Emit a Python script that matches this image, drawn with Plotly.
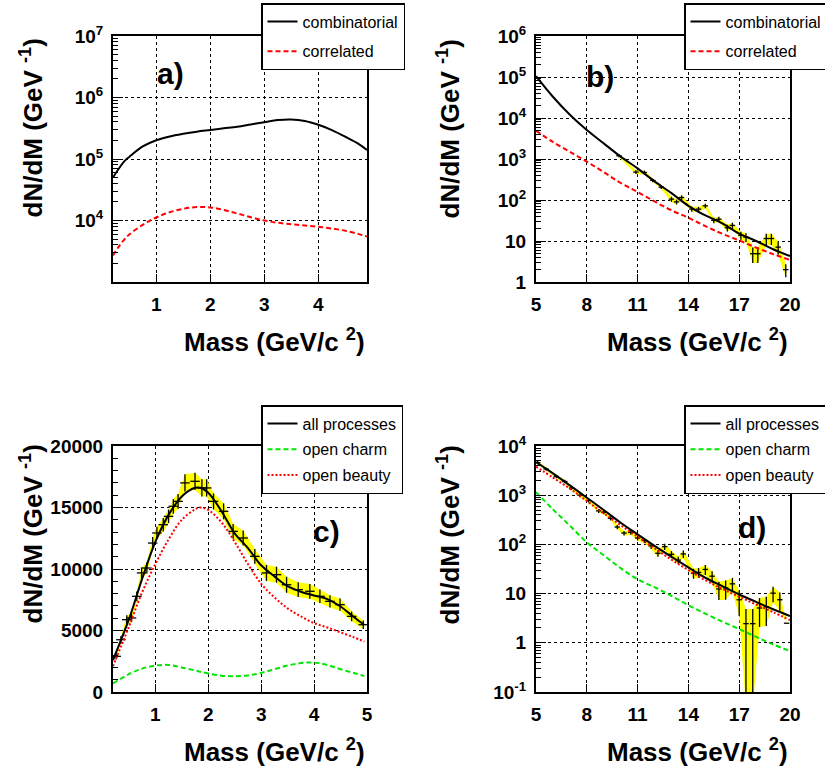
import plotly.graph_objects as go

# ---------------- data ----------------
# panel a) low mass, combinatorial vs correlated
a_mass = [0.2, 0.3, 0.4, 0.5, 0.75, 1.0, 1.25, 1.5, 1.75, 2.0, 2.25, 2.5, 2.75, 3.0, 3.25, 3.5, 3.75, 4.0, 4.25, 4.5, 4.75, 4.9]
a_comb = [5.0e4, 6.8e4, 9.0e4, 1.08e5, 1.6e5, 2.02e5, 2.33e5, 2.57e5, 2.78e5, 2.96e5, 3.15e5, 3.35e5, 3.65e5, 3.97e5, 4.3e5, 4.4e5, 4.15e5, 3.6e5, 2.95e5, 2.3e5, 1.75e5, 1.4e5]
a_corr = [2.7e3, 3.7e3, 4.8e3, 5.9e3, 8.5e3, 1.12e4, 1.36e4, 1.55e4, 1.65e4, 1.63e4, 1.48e4, 1.3e4, 1.13e4, 1.0e4, 9.2e3, 8.7e3, 8.3e3, 7.9e3, 7.4e3, 6.8e3, 6.0e3, 5.5e3]

# panel b) high mass
b_mass = [5, 6, 7, 8, 9, 10, 11, 12, 13, 14, 15, 16, 17, 18, 19, 20]
b_comb = [1.05e5, 3.3e4, 1.2e4, 5.1e3, 2.4e3, 1.14e3, 590, 285, 147, 72, 42, 27, 15.2, 10.0, 6.3, 4.3]
b_corr = [4.9e3, 2.6e3, 1.5e3, 860, 480, 260, 157, 92, 56, 37, 23, 15, 10.3, 6.9, 4.8, 3.45]
b_pts_x = [9.9, 10.9, 11.4, 11.9, 12.4, 13.0, 13.3, 13.6, 14.2, 14.6, 15.0, 15.5, 15.8, 16.3, 16.6, 17.1, 17.4, 17.8, 18.1, 18.6, 18.9, 19.3, 19.75]
b_pts_y = [1200, 480, 470, 300, 205, 105, 90, 115, 60, 60, 72, 32, 34, 21, 24, 13.7, 12.5, 4.9, 4.9, 11.5, 11.5, 7.1, 2.0]
b_pts_e = [100, 50, 50, 30, 20, 15, 12, 15, 8, 8, 9, 5, 5, 4, 4, 3, 3, 2, 2, 3.5, 3.5, 2.5, 0.7]

# panel c) low mass, processes
c_mass = [0.2, 0.5, 0.75, 1.0, 1.25, 1.5, 1.75, 1.85, 2.0, 2.25, 2.5, 2.75, 3.0, 3.25, 3.5, 3.75, 4.0, 4.25, 4.5, 4.75, 4.95]
c_all = [2600, 5900, 9200, 12200, 14400, 15900, 16600, 16600, 16200, 14700, 12900, 11700, 10300, 9400, 8600, 8150, 7850, 7550, 6950, 6100, 5450]
c_beauty = [2100, 5300, 8100, 10400, 12400, 14000, 14850, 15000, 14800, 13800, 12200, 10400, 8800, 7700, 6800, 6150, 5600, 5250, 4850, 4450, 4100]
c_charm = [700, 1450, 1900, 2150, 2200, 2000, 1750, 1650, 1500, 1330, 1280, 1350, 1550, 1850, 2150, 2350, 2390, 2200, 1850, 1550, 1300]
c_pts_x = [0.26, 0.35, 0.46, 0.55, 0.65, 0.74, 0.84, 0.95, 1.03, 1.15, 1.25, 1.34, 1.43, 1.56, 1.75, 1.88, 1.97, 2.1, 2.29, 2.47, 2.66, 2.88, 3.1, 3.29, 3.48, 3.7, 3.92, 4.11, 4.3, 4.49, 4.71, 4.93]
c_pts_y = [2900, 4250, 5880, 6020, 7780, 9680, 10080, 12110, 12930, 13600, 14280, 15100, 15500, 17000, 17130, 16590, 16590, 15500, 14690, 13060, 12520, 11030, 9680, 9540, 8720, 8320, 8190, 7780, 7370, 7100, 6150, 5470]
c_pts_e = [250, 300, 350, 350, 400, 450, 450, 500, 500, 550, 550, 600, 600, 700, 700, 700, 700, 650, 650, 600, 600, 600, 650, 650, 650, 600, 600, 550, 500, 500, 400, 350]

# panel d) high mass, processes
d_mass = [5, 6, 7, 8, 9, 10, 11, 12, 13, 14, 15, 16, 17, 18, 19, 20]
d_all = [4700, 2770, 1580, 890, 500, 276, 160, 93, 56, 34, 21, 14.2, 9.6, 6.8, 4.8, 3.5]
d_beauty = [3800, 2280, 1360, 760, 430, 245, 144, 83, 49, 30, 18.7, 12.5, 8.6, 6.0, 4.2, 2.9]
d_charm = [1150, 515, 240, 110, 60, 33, 19.5, 13.5, 9.0, 5.8, 3.9, 2.7, 1.9, 1.32, 0.93, 0.68]
d_pts_x = [5.1, 5.6, 6.2, 6.7, 7.1, 7.6, 8.1, 8.7, 9.0, 9.4, 9.8, 10.2, 10.6, 11.0, 11.4, 11.8, 12.2, 12.6, 13.0, 13.4, 13.7, 14.3, 14.6, 15.0, 15.4, 15.8, 16.2, 16.6, 17.0, 17.4, 17.8, 18.2, 18.6, 19.0, 19.4, 19.8]
d_pts_y = [4600, 3400, 2400, 1900, 1400, 1000, 780, 480, 450, 340, 225, 170, 175, 135, 120, 93, 66, 90, 63, 48, 64, 26, 27, 31, 22.6, 12.4, 13, 15.8, 7.5, 2.45, 2.45, 5.1, 5.4, 10.2, 7.5, 2.5]
d_pts_e = [350, 270, 200, 160, 120, 90, 70, 45, 42, 32, 22, 18, 18, 15, 14, 12, 10, 13, 10, 8, 11, 6, 6, 7, 6, 5, 5.5, 5, 4, 2.4, 2.4, 3, 3.2, 3.5, 3, 0]

# ---------------- styling ----------------
FONT = "Liberation Sans, Arial, Helvetica, sans-serif"
W, H = 825, 767
RED = "#ff0000"
GREEN = "#00e600"
YEL = "#ffff00"


def px(X):
    return X / W


def py(Y):
    return 1 - Y / H


fig = go.Figure()


def band(x, y, e, xa, ya, floor=None):
    up = [v + d for v, d in zip(y, e)]
    lo = [v - d for v, d in zip(y, e)]
    if floor is not None:
        lo = [max(v, floor) for v in lo]
    fig.add_trace(go.Scatter(x=list(x) + list(x)[::-1], y=up + lo[::-1], fill="toself",
                             fillcolor=YEL, line=dict(width=0), mode="lines",
                             xaxis=xa, yaxis=ya, showlegend=False, hoverinfo="skip"))


def crosses(x, y, e, xe, xa, ya):
    fig.add_trace(go.Scatter(x=x, y=y, mode="markers", marker=dict(size=1, color="black", opacity=0),
                             error_y=dict(type="data", array=e, color="black", thickness=1.3, width=0),
                             error_x=dict(type="constant", value=xe, color="black", thickness=1.3, width=0),
                             xaxis=xa, yaxis=ya, showlegend=False, hoverinfo="skip"))


def curve(x, y, xa, ya, color, dash, name, legend, rank):
    fig.add_trace(go.Scatter(x=x, y=y, mode="lines", line=dict(color=color, width=2, dash=dash, shape="spline"),
                             xaxis=xa, yaxis=ya, name=name, legend=legend, legendgroup=legend + name,
                             legendrank=rank, showlegend=True, hoverinfo="skip"))


# panel a
curve(a_mass, a_corr, "x", "y", RED, "5px,3px", "correlated", "legend", 2)
curve(a_mass, a_comb, "x", "y", "black", "solid", "combinatorial", "legend", 1)

# panel b
band(b_pts_x, b_pts_y, b_pts_e, "x2", "y2", floor=0.5)
crosses(b_pts_x, b_pts_y, b_pts_e, 0.16, "x2", "y2")
curve(b_mass, b_corr, "x2", "y2", RED, "5px,3px", "correlated", "legend2", 2)
curve(b_mass, b_comb, "x2", "y2", "black", "solid", "combinatorial", "legend2", 1)

# panel c
band(c_pts_x, c_pts_y, c_pts_e, "x3", "y3")
crosses(c_pts_x, c_pts_y, c_pts_e, 0.09, "x3", "y3")
curve(c_mass, c_charm, "x3", "y3", GREEN, "5px,3px", "open charm", "legend3", 2)
curve(c_mass, c_beauty, "x3", "y3", RED, "2px,2px", "open beauty", "legend3", 3)
curve(c_mass, c_all, "x3", "y3", "black", "solid", "all processes", "legend3", 1)

# panel d
band(d_pts_x, d_pts_y, d_pts_e, "x4", "y4", floor=0.02)
crosses(d_pts_x, d_pts_y, d_pts_e, 0.16, "x4", "y4")
curve(d_mass, d_charm, "x4", "y4", GREEN, "5px,3px", "open charm", "legend4", 2)
curve(d_mass, d_beauty, "x4", "y4", RED, "2px,2px", "open beauty", "legend4", 3)
curve(d_mass, d_all, "x4", "y4", "black", "solid", "all processes", "legend4", 1)

# ---------------- axes ----------------
XL = [px(113), px(367)]
XR = [px(536), px(790)]
YT = [py(282), py(36)]
YB = [py(692), py(446)]

tickfont = dict(family=FONT, size=19, color="black", weight="bold")


def xax(domain, anchor, rng, vals):
    return dict(domain=domain, anchor=anchor, range=rng, tickvals=vals, ticktext=[str(v) for v in vals],
                showline=True, mirror=True, linecolor="black", linewidth=2,
                ticks="inside", ticklen=8, tickcolor="black", tickwidth=1,
                showgrid=True, gridcolor="black", griddash="dot", gridwidth=1,
                zeroline=False, tickfont=tickfont, ticklabelstandoff=4)


def ylog(domain, anchor, rng, vals, texts):
    return dict(domain=domain, anchor=anchor, type="log", range=rng, tickvals=vals, ticktext=texts,
                showline=True, mirror=True, linecolor="black", linewidth=2,
                ticks="inside", ticklen=10, tickcolor="black", tickwidth=1,
                minor=dict(ticks="inside", ticklen=5, tickcolor="black", dtick="D1", showgrid=False),
                showgrid=True, gridcolor="black", griddash="dot", gridwidth=1,
                zeroline=False, tickfont=tickfont, ticklabelstandoff=4)


fig.update_layout(
    xaxis=xax(XL, "y", [0.2, 4.9], [1, 2, 3, 4]),
    yaxis=ylog(YT, "x", [3, 7], [1e4, 1e5, 1e6, 1e7],
               ["10<sup>4</sup>", "10<sup>5</sup>", "10<sup>6</sup>", "10<sup>7</sup>"]),
    xaxis2=xax(XR, "y2", [5, 20], [5, 8, 11, 14, 17, 20]),
    yaxis2=ylog(YT, "x2", [0, 6], [1, 10, 1e2, 1e3, 1e4, 1e5, 1e6],
                ["1", "10", "10<sup>2</sup>", "10<sup>3</sup>", "10<sup>4</sup>", "10<sup>5</sup>", "10<sup>6</sup>"]),
    xaxis3=xax(XL, "y3", [0.2, 5], [1, 2, 3, 4, 5]),
    yaxis3=dict(domain=YB, anchor="x3", range=[0, 20000], tickvals=[0, 5000, 10000, 15000, 20000],
                ticktext=["0", "5000", "10000", "15000", "20000"],
                showline=True, mirror=True, linecolor="black", linewidth=2,
                ticks="inside", ticklen=10, tickcolor="black", tickwidth=1,
                minor=dict(ticks="inside", ticklen=5, tickcolor="black", dtick=1000, showgrid=False),
                showgrid=True, gridcolor="black", griddash="dot", gridwidth=1,
                zeroline=False, tickfont=tickfont, ticklabelstandoff=4),
    xaxis4=xax(XR, "y4", [5, 20], [5, 8, 11, 14, 17, 20]),
    yaxis4=ylog(YB, "x4", [-1, 4], [0.1, 1, 10, 1e2, 1e3, 1e4],
                ["10<sup>-1</sup>", "1", "10", "10<sup>2</sup>", "10<sup>3</sup>", "10<sup>4</sup>"]),
)

# ---------------- legends ----------------
legfont = dict(family=FONT, size=16, color="black")


def leg(x, y, gap):
    return dict(x=x, y=y, xanchor="left", yanchor="top", bgcolor="white", bordercolor="black",
                borderwidth=1.5, font=legfont, tracegroupgap=gap, itemwidth=30, traceorder="grouped")


fig.update_layout(
    legend=leg(px(261), py(3), 6),
    legend2=leg(px(684), py(3), 6),
    legend3=leg(px(261), py(405), 2),
    legend4=leg(px(684), py(405), 2),
)

# ---------------- annotations ----------------
ann = []
titlefont = dict(family=FONT, size=26, color="black", weight="bold")
for xr, yc in [(367, 340), (790, 340), (367, 750), (790, 750)]:
    ann.append(dict(text="Mass (GeV/c <sup>2</sup>)", x=px(xr), y=py(yc), xref="paper", yref="paper",
                    xanchor="right", yanchor="middle", showarrow=False, font=titlefont))
for xc, yt in [(32, 37), (449, 37), (32, 443), (449, 443)]:
    ann.append(dict(text="dN/dM (GeV <sup>-1</sup>)", x=px(xc), y=py(yt), xref="paper", yref="paper",
                    xanchor="center", yanchor="top", textangle=-90, showarrow=False, font=titlefont))
labfont = dict(family=FONT, size=30, color="black", weight="bold")
for t, xc, yc in [("a)", 170, 74), ("b)", 600, 76), ("c)", 326, 531), ("d)", 752, 527)]:
    ann.append(dict(text=t, x=px(xc), y=py(yc), xref="paper", yref="paper",
                    xanchor="center", yanchor="middle", showarrow=False, font=labfont))

fig.update_layout(annotations=ann, width=W, height=H,
                  margin=dict(l=0, r=0, t=0, b=0, autoexpand=False),
                  paper_bgcolor="white", plot_bgcolor="white")

fig.write_html("out.html")
